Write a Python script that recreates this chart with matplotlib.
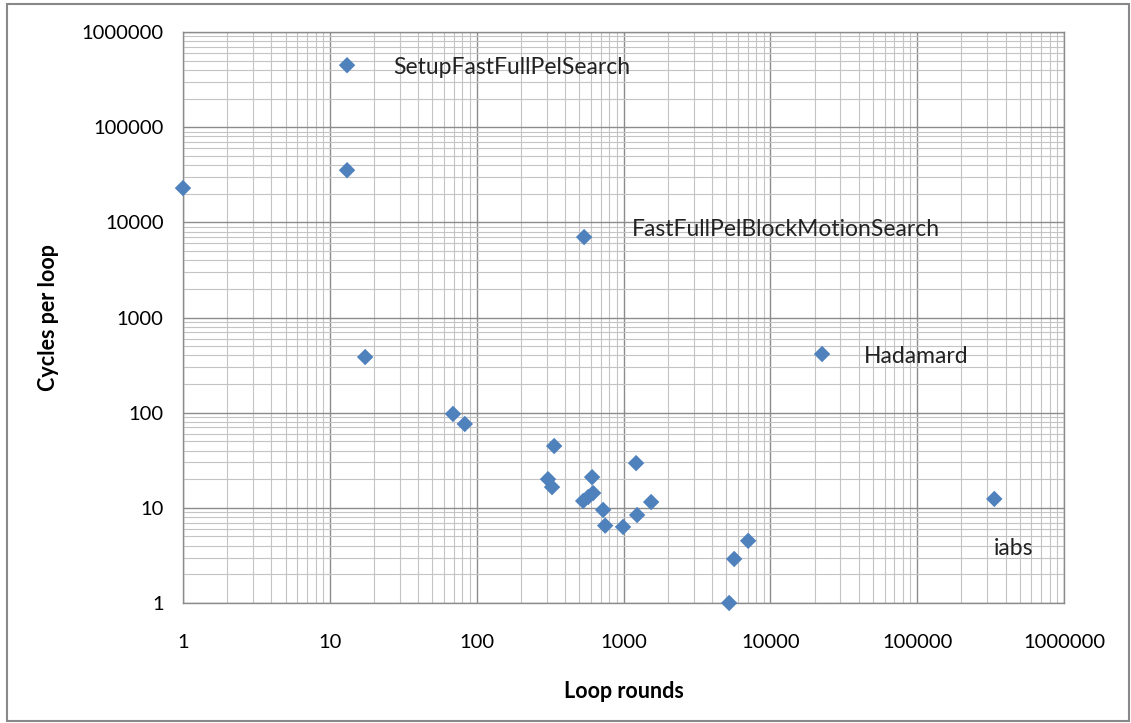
import matplotlib
matplotlib.use("Agg")
import matplotlib.pyplot as plt
from matplotlib.patches import Rectangle

# loop rounds vs cycles per loop
loops = [1, 13.1, 13.1, 17.4, 69, 83, 539, 337, 306, 326, 611, 1218,
         531, 575, 621, 726, 750, 993, 1238, 1542, 7060, 5670, 5240,
         335000, 22500]
cycles = [22900, 448000, 35300, 384, 97, 76, 7000, 44.6, 20, 16.5, 21,
          29.5, 11.8, 13.0, 14.3, 9.5, 6.5, 6.3, 8.4, 11.5, 4.5, 2.9, 1.0,
          12.4, 413]

# labelled points: (index, text, offset in pixels)
labels = [(1, "SetupFastFullPelSearch", (46, -2)),
          (6, "FastFullPelBlockMotionSearch", (48, 8)),
          (24, "Hadamard", (42, -2)),
          (23, "iabs", (-1, -50))]

xticks = [1, 10, 100, 1000, 10000, 100000, 1000000]
yticks = [1, 10, 100, 1000, 10000, 100000, 1000000]

plt.rcParams['font.family'] = ['Lato', 'DejaVu Sans']

fig = plt.figure(figsize=(11.31, 7.23), dpi=100)
ax = fig.add_axes([0.1618, 0.166, 0.7790, 0.7897])

ax.scatter(loops, cycles, marker='D', s=70, color='#4F81BD',
           edgecolors='none', zorder=3, clip_on=False)

for i, txt, off in labels:
    ax.annotate(txt, (loops[i], cycles[i]), xytext=off,
                textcoords='offset pixels', fontsize=16.5,
                color='#222222', ha='left', va='center')

ax.set_xscale('log')
ax.set_yscale('log')
ax.set_xlim(1, 1e6)
ax.set_ylim(1, 1e6)
ax.set_xticks(xticks)
ax.set_xticklabels([str(v) for v in xticks])
ax.set_yticks(yticks)
ax.set_yticklabels([str(v) for v in yticks])

ax.grid(True, which='major', color='#8c8c8c', lw=1.0)
ax.grid(True, which='minor', color='#c4c4c4', lw=0.8)
ax.set_axisbelow(True)
ax.tick_params(which='both', length=0)
ax.tick_params(axis='y', pad=14, labelsize=14.5)
ax.tick_params(axis='x', pad=22, labelsize=14.5)
for s in ax.spines.values():
    s.set_color('#8c8c8c')
    s.set_linewidth(1.0)

ax.set_xlabel('Loop rounds', fontsize=15.5, fontweight='bold', labelpad=22)
ax.set_ylabel('Cycles per loop', fontsize=15.5, fontweight='bold', labelpad=16)

fig.patches.append(Rectangle((7 / 1131, 2 / 723), 1122 / 1131, 717 / 723,
                             transform=fig.transFigure, fill=False,
                             edgecolor='#888888', lw=1.5))

fig.savefig('out.png', dpi=100)
